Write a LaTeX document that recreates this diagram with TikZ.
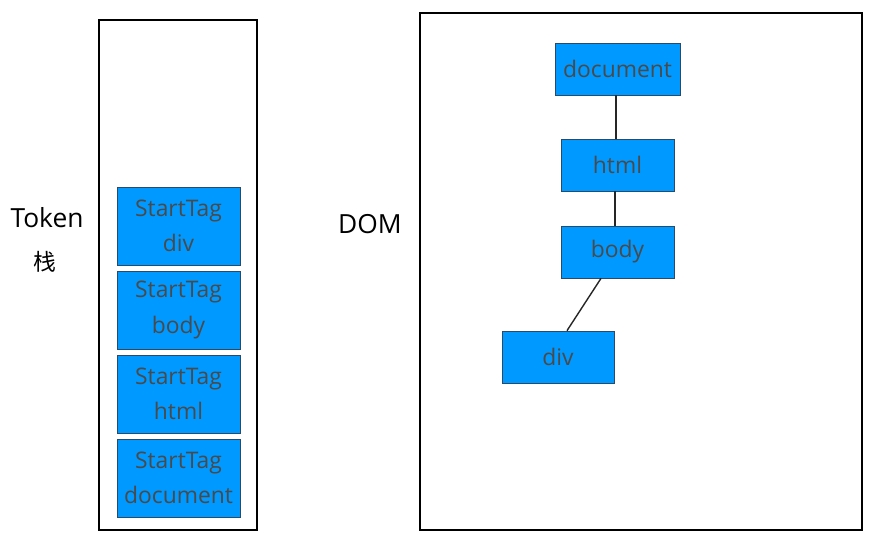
\documentclass[tikz,border=0pt]{standalone}
\usepackage{fontspec}
\setmainfont{Open Sans}
\newfontfamily\cjkfont{Noto Sans CJK SC}
\usetikzlibrary{positioning}
\definecolor{tagblue}{HTML}{0099FF}
\definecolor{tagtext}{HTML}{4A4A4A}
\definecolor{tagedge}{HTML}{2A4A6A}

\begin{document}
\begin{tikzpicture}[x=0.02cm, y=-0.02cm,
    frame/.style = {draw=black, line width=1.6pt},
    tagbox/.style = {draw=tagedge, fill=tagblue, text=tagtext, inner sep=0pt,
      font=\fontsize{13}{20}\selectfont, align=center},
    stackbox/.style = {tagbox, minimum width=123*0.02cm, minimum height=78*0.02cm},
    dombox/.style = {tagbox, minimum height=52*0.02cm},
    label/.style = {font=\fontsize{15}{18}\selectfont, text=black},
    link/.style = {draw=black!85, line width=0.8pt}]
    \useasboundingbox (0,0) rectangle (871,543);

    % token stack
    \draw[frame] (99,20) rectangle (257,530);
    \node[stackbox] (sdiv)  at (178.5,226) {StartTag\\div};
    \node[stackbox] (sbody) at (178.5,310) {StartTag\\body};
    \node[stackbox] (shtml) at (178.5,394) {StartTag\\html};
    \node[stackbox] (sdoc)  at (178.5,478) {StartTag\\document};
    \node[label] (token) at (47,218) {Token};
    \node[label, font=\cjkfont\fontsize{13}{16}\selectfont] (zhan) at (45,262) {栈};

    % dom tree
    \node[label] (dom) at (370,224) {DOM};
    \draw[frame] (420,13) rectangle (862,530);
    \node[dombox, minimum width=125*0.02cm] (document) at (617.5,69) {document};
    \node[dombox, minimum width=113*0.02cm] (html) at (617.5,165) {html};
    \node[dombox, minimum width=113*0.02cm] (body) at (617.5,252) {body};
    \node[dombox, minimum width=112*0.02cm] (div) at (558,357) {div};

    \draw[link] (document.south -| 616,0) -- (html.north -| 616,0);
    \draw[link] (html.south -| 615,0) -- (body.north -| 615,0);
    \draw[link] (body.south -| 601,0) -- (div.north -| 567,0);
  \end{tikzpicture}
\end{document}
